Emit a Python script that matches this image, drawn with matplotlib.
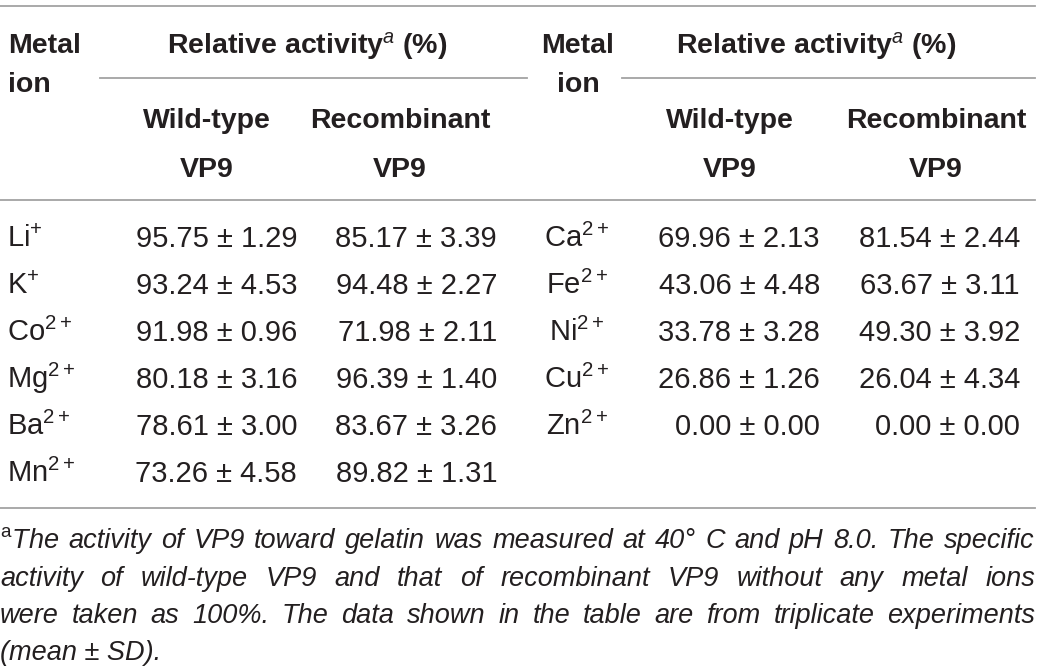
import matplotlib
matplotlib.use("Agg")
import matplotlib.pyplot as plt

# table values (relative activity, %)
left_ions = ["Li", "K", "Co", "Mg", "Ba", "Mn"]
left_charge = ["+", "+", "2+", "2+", "2+", "2+"]
wt_left_mean = [95.75, 93.24, 91.98, 80.18, 78.61, 73.26]
wt_left_sd = [1.29, 4.53, 0.96, 3.16, 3.00, 4.58]
rec_left_mean = [85.17, 94.48, 71.98, 96.39, 83.67, 89.82]
rec_left_sd = [3.39, 2.27, 2.11, 1.40, 3.26, 1.31]

right_ions = ["Ca", "Fe", "Ni", "Cu", "Zn"]
right_charge = ["2+", "2+", "2+", "2+", "2+"]
wt_right_mean = [69.96, 43.06, 33.78, 26.86, 0.00]
wt_right_sd = [2.13, 4.48, 3.28, 1.26, 0.00]
rec_right_mean = [81.54, 63.67, 49.30, 26.04, 0.00]
rec_right_sd = [2.44, 3.11, 3.92, 4.34, 0.00]

footnote = [
    "The activity of VP9 toward gelatin was measured at 40° C and pH 8.0. The specific",
    "activity of wild-type VP9 and that of recombinant VP9 without any metal ions",
    "were taken as 100%. The data shown in the table are from triplicate experiments",
    "(mean ± SD).",
]

plt.rcParams["font.family"] = ["Liberation Sans", "DejaVu Sans"]
plt.rcParams["mathtext.fontset"] = "custom"
plt.rcParams["mathtext.rm"] = "Liberation Sans"
plt.rcParams["mathtext.it"] = "Liberation Sans:italic"
plt.rcParams["mathtext.bf"] = "Liberation Sans:bold"

ink = "#231f20"
rule = "#a3a3a3"
fs = 20.5

fig = plt.figure(figsize=(10.41, 6.70), dpi=100)
ax = fig.add_axes([0, 0, 1, 1])
ax.set_xlim(0, 1041)
ax.set_ylim(670, 0)
ax.axis("off")

# rules
for y in [6, 200, 508]:
    ax.plot([0, 1035], [y, y], color=rule, lw=1.3)
ax.plot([100, 527], [78, 78], color=rule, lw=1.3)
ax.plot([622, 1035], [78, 78], color=rule, lw=1.3)

hdr = dict(fontsize=fs, fontweight="bold", color=ink, va="baseline")
# left header
ax.text(8, 53, "Metal", ha="left", **hdr)
ax.text(8, 92, "ion", ha="left", **hdr)
ax.text(307, 53, r"Relative activity$^{\mathit{a}}$ (%)", ha="center", **hdr)
ax.text(207, 128, "Wild-type", ha="center", **hdr)
ax.text(207, 177, "VP9", ha="center", **hdr)
ax.text(400, 128, "Recombinant", ha="center", **hdr)
ax.text(400, 177, "VP9", ha="center", **hdr)
# right header
ax.text(578, 53, "Metal", ha="center", **hdr)
ax.text(578, 92, "ion", ha="center", **hdr)
ax.text(816, 53, r"Relative activity$^{\mathit{a}}$ (%)", ha="center", **hdr)
ax.text(730, 128, "Wild-type", ha="center", **hdr)
ax.text(730, 177, "VP9", ha="center", **hdr)
ax.text(936, 128, "Recombinant", ha="center", **hdr)
ax.text(936, 177, "VP9", ha="center", **hdr)

body = dict(fontsize=21, color=ink, va="baseline")
row0 = 247
step = 47.1


def val(m, s):
    return f"{m:.2f} \u00b1 {s:.2f}"


for i, ion in enumerate(left_ions):
    y = row0 + i * step
    ax.text(7, y, f"{ion}$^{{{left_charge[i]}}}$", ha="left", **body)
    ax.text(297, y, val(wt_left_mean[i], wt_left_sd[i]), ha="right", **body)
    ax.text(497, y, val(rec_left_mean[i], rec_left_sd[i]), ha="right", **body)

for i, ion in enumerate(right_ions):
    y = row0 + i * step
    ax.text(577, y, f"{ion}$^{{{right_charge[i]}}}$", ha="center", **body)
    ax.text(820, y, val(wt_right_mean[i], wt_right_sd[i]), ha="right", **body)
    ax.text(1020, y, val(rec_right_mean[i], rec_right_sd[i]), ha="right", **body)

# footnote, justified
foot = dict(fontsize=19.5, color=ink, va="baseline", style="italic")
foot_y = [548, 586, 623, 660]
renderer = fig.canvas.get_renderer()
for k, line in enumerate(footnote):
    words = line.split(" ")
    if k == 0:
        words[0] = r"$^{\mathrm{a}}$" + words[0]
    if k == len(footnote) - 1:
        ax.text(0, foot_y[k], line, ha="left", **foot)
        continue
    texts = [ax.text(0, foot_y[k], w, ha="left", **foot) for w in words]
    widths = [t.get_window_extent(renderer).width for t in texts]
    gap = (1035 - sum(widths)) / (len(words) - 1)
    x = 0
    for t, w in zip(texts, widths):
        t.set_x(x)
        x += w + gap

fig.savefig("out.png", dpi=100)
